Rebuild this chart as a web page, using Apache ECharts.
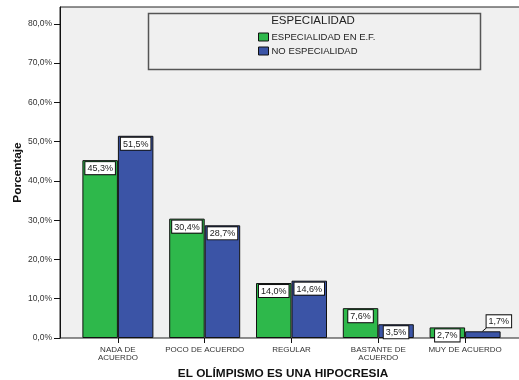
<!DOCTYPE html>
<html>
<head>
<meta charset="utf-8">
<script src="https://cdn.jsdelivr.net/npm/echarts@6/dist/echarts.min.js"></script>
<style>html,body{margin:0;padding:0;background:#fff;}#c{width:519px;height:380px;}</style>
</head>
<body>
<div id="c"></div>
<script>
var categories = ['NADA DE\nACUERDO', 'POCO DE ACUERDO', 'REGULAR', 'BASTANTE DE\nACUERDO', 'MUY DE ACUERDO'];
var especialidadEF = [45.3, 30.4, 14.0, 7.6, 2.7];
var noEspecialidad = [51.5, 28.7, 14.6, 3.5, 1.7];
var yTicks = [0, 10, 20, 30, 40, 50, 60, 70, 80];
var seriesNames = ['ESPECIALIDAD EN E.F.', 'NO ESPECIALIDAD'];
var legendTitle = 'ESPECIALIDAD';
var xTitle = 'EL OLÍMPISMO ES UNA HIPOCRESIA';
var yTitle = 'Porcentaje';

var FONT = '"Liberation Sans", Arial, sans-serif';
var YMAX = 84.3;
var BAR_W = 35.5;
var MOVED = noEspecialidad.length - 1;   // index of the blue label drawn outside its bar
var MOVE_DX = 16, MOVE_DY = -10;         // label centre relative to bar top-centre

function fmt(v) { return v.toFixed(1).replace('.', ',') + '%'; }

var labelStyle = {
  show: true,
  position: 'insideTop',
  distance: 2,
  formatter: function (p) { return fmt(p.value); },
  backgroundColor: '#ffffff',
  borderColor: '#111',
  borderWidth: 1,
  padding: [2, 2, 1, 2],
  fontSize: 9,
  fontFamily: FONT,
  color: '#222'
};

function makeSeries(name, data, color, idx) {
  return {
    name: name,
    type: 'bar',
    xAxisIndex: 1,
    yAxisIndex: 1,
    data: data,
    barWidth: BAR_W,
    barGap: '0%',
    z: 2,
    itemStyle: { color: color, borderColor: '#111', borderWidth: 1 },
    label: labelStyle,
    labelLayout: function (p) {
      if (idx === 1 && p.dataIndex === MOVED) {
        return {
          x: p.rect.x + p.rect.width / 2 + MOVE_DX,
          y: p.rect.y + MOVE_DY,
          align: 'center',
          verticalAlign: 'middle'
        };
      }
      return {};
    }
  };
}

// guide line for the moved label, positioned from the data through the axes
var guideSeries = {
  type: 'custom',
  xAxisIndex: 1,
  yAxisIndex: 1,
  z: 3,
  silent: true,
  data: noEspecialidad.map(function (v, i) { return [i, v]; }),
  renderItem: function (params, api) {
    if (params.dataIndex !== MOVED) return null;
    var c = api.coord([api.value(0), api.value(1)]);
    var bx = c[0] + BAR_W / 2;   // centre of the blue bar
    return {
      type: 'line',
      shape: { x1: bx - 0.5, y1: c[1], x2: bx + MOVE_DX - 12.5, y2: c[1] + MOVE_DY + 6.7 },
      style: { stroke: '#111', lineWidth: 1 }
    };
  }
};

var chart = echarts.init(document.getElementById('c'), null, { renderer: 'canvas' });
chart.setOption({
  animation: false,
  backgroundColor: '#ffffff',
  textStyle: { fontFamily: FONT },
  grid: [
    { left: 60, right: -5, top: 7, bottom: 42, show: true, backgroundColor: '#f0f0f0', borderColor: '#222', borderWidth: 1, outerBoundsMode: 'none', containLabel: false },
    { left: 74.5, width: 434, top: 7, bottom: 42, outerBoundsMode: 'none', containLabel: false }
  ],
  xAxis: [
    {
      gridIndex: 0, type: 'value', min: 0, max: 1,
      axisLine: { show: false }, axisTick: { show: false }, axisLabel: { show: false }, splitLine: { show: false },
      name: xTitle, nameLocation: 'middle', nameGap: 30,
      nameTextStyle: { fontSize: 11.8, fontWeight: 'bold', color: '#111', fontFamily: FONT, padding: [0, 18, 0, 0] }
    },
    {
      gridIndex: 1, type: 'category', data: categories,
      axisLine: { show: false },
      axisTick: { show: true, alignWithLabel: true, length: 5, lineStyle: { color: '#111' } },
      axisLabel: { interval: 0, fontSize: 8, lineHeight: 8, color: '#333', margin: 8, fontFamily: FONT },
      splitLine: { show: false }
    }
  ],
  yAxis: [
    {
      gridIndex: 0, type: 'value', min: 0, max: YMAX, interval: 10,
      axisLine: { show: true, lineStyle: { color: '#111' } },
      axisTick: { show: true, length: 6, customValues: yTicks, lineStyle: { color: '#111' } },
      axisLabel: { customValues: yTicks, formatter: function (v) { return fmt(v); }, fontSize: 8.5, color: '#333', margin: 8, fontFamily: FONT },
      splitLine: { show: false },
      name: yTitle, nameLocation: 'middle', nameGap: 36, nameMoveOverlap: false,
      nameTextStyle: { fontSize: 11.8, fontWeight: 'bold', color: '#111', fontFamily: FONT }
    },
    {
      gridIndex: 1, type: 'value', min: 0, max: YMAX, show: false
    }
  ],
  legend: {
    data: seriesNames,
    orient: 'vertical',
    left: 258,
    top: 32,
    padding: 0,
    itemWidth: 10,
    itemHeight: 8,
    itemGap: 4,
    icon: 'rect',
    itemStyle: { borderColor: '#111', borderWidth: 1 },
    textStyle: { fontSize: 9.5, color: '#222', fontFamily: FONT, padding: [0, 0, 0, -2] }
  },
  graphic: [
    {
      type: 'rect', left: 146, top: 11, z: 5, silent: true,
      shape: { width: 332, height: 56 },
      style: { fill: 'none', stroke: '#555', lineWidth: 1.5 }
    },
    {
      type: 'text', z: 6, silent: true,
      x: 313, y: 21,
      style: { text: legendTitle, fontSize: 11.5, fontFamily: FONT, fill: '#222', align: 'center', verticalAlign: 'middle' }
    }
  ],
  series: [
    makeSeries(seriesNames[0], especialidadEF, '#2eb84b', 0),
    makeSeries(seriesNames[1], noEspecialidad, '#3b54a6', 1),
    guideSeries
  ]
});
</script>
</body>
</html>
